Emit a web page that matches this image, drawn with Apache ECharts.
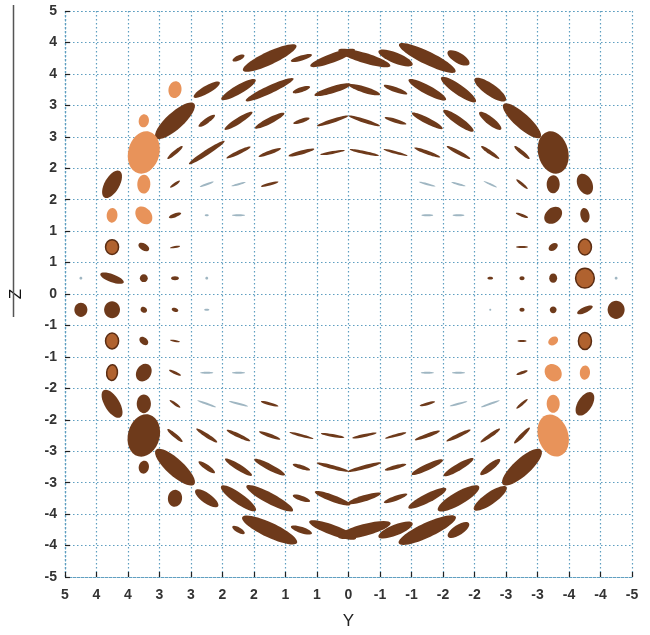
<!DOCTYPE html>
<html>
<head>
<meta charset="utf-8">
<script src="https://cdn.jsdelivr.net/npm/echarts@6/dist/echarts.min.js"></script>
<style>html,body{margin:0;padding:0;background:#fff}#c{width:650px;height:635px}</style>
</head>
<body>
<div id="c"></div>
<script>
// Tick labels (as printed, rounded) from -5 to 5
const tickLabels = ['-5','-4','-4','-3','-3','-2','-2','-1','-1','0','1','1','2','2','3','3','4','4','5'];
const axisMin = -5, axisMax = 5, tickStep = 10 / 18;

// Z value of each row of ellipses (top to bottom)
const rowZ = [4.17, 3.61, 3.06, 2.50, 1.94, 1.39, 0.83, 0.28, -0.28, -0.83, -1.39, -1.94, -2.50, -3.06, -3.61, -4.17];

// Each entry: [Y, major axis length, minor axis length, angle (deg), tone]
const row01 = [[1.94,0.23,0.09,25,0],[1.39,1.04,0.23,25,0],[0.83,0.39,0.09,17,0],[0.28,0.84,0.16,20,0],[-0.28,0.96,0.18,-17,0],[-0.83,0.65,0.19,-22,0],[-1.39,1.11,0.23,-26,0],[-1.94,0.44,0.18,-30,0]];
const row02 = [[3.06,0.30,0.23,80,1],[2.50,0.53,0.14,30,0],[1.94,0.70,0.16,30,0],[1.39,0.93,0.14,25,0],[0.83,0.32,0.09,18,0],[0.28,0.67,0.12,17,0],[-0.28,0.58,0.11,-17,0],[-0.83,0.44,0.09,-20,0],[-1.39,0.75,0.16,-28,0],[-1.94,0.75,0.18,-35,0],[-2.50,0.67,0.21,-35,0]];
const row03 = [[3.61,0.23,0.18,80,1],[3.06,0.91,0.30,42,0],[2.50,0.35,0.09,35,0],[1.94,0.58,0.11,32,0],[1.39,0.58,0.11,27,0],[0.83,0.30,0.07,18,0],[0.28,0.58,0.07,18,0],[-0.28,0.58,0.07,-18,0],[-0.83,0.40,0.07,-17,0],[-1.39,0.61,0.11,-27,0],[-1.94,0.65,0.14,-35,0],[-2.50,0.49,0.14,-38,0],[-3.06,0.88,0.26,-42,0]];
const row04 = [[3.61,0.76,0.55,75,1],[3.06,0.35,0.07,40,0],[2.50,0.75,0.09,33,0],[1.94,0.47,0.07,25,0],[1.39,0.42,0.07,20,0],[0.83,0.47,0.07,15,0],[0.28,0.44,0.05,10,0],[-0.28,0.53,0.05,-12,0],[-0.83,0.44,0.05,-15,0],[-1.39,0.49,0.07,-20,0],[-1.94,0.47,0.07,-28,0],[-2.50,0.39,0.07,-35,0],[-3.06,0.35,0.07,-40,0],[-3.61,0.76,0.53,-75,0]];
const row05 = [[4.17,0.54,0.26,60,0],[3.61,0.33,0.23,88,1],[3.06,0.21,0.05,35,0],[2.50,0.26,0.035,20,2],[1.94,0.26,0.035,15,2],[1.39,0.32,0.05,15,0],[-1.39,0.30,0.035,-15,2],[-1.94,0.26,0.035,-15,2],[-2.50,0.26,0.035,-25,2],[-3.06,0.26,0.05,-40,0],[-3.61,0.32,0.23,88,0],[-4.17,0.39,0.26,-65,0]];
const row06 = [[4.17,0.26,0.19,85,1],[3.61,0.35,0.26,-50,1],[3.06,0.23,0.07,20,0],[2.50,0.07,0.035,0,2],[1.94,0.23,0.035,0,2],[-1.39,0.21,0.035,0,2],[-1.94,0.21,0.035,0,2],[-3.06,0.23,0.05,-20,0],[-3.61,0.35,0.26,40,0],[-4.17,0.26,0.16,-80,0]];
const row07 = [[4.17,0.26,0.23,90,3],[3.61,0.21,0.12,-30,0],[3.06,0.18,0.035,10,0],[-3.06,0.21,0.035,0,0],[-3.61,0.18,0.12,35,0],[-4.17,0.28,0.23,90,3]];
const row08 = [[4.72,0.05,0.05,0,2],[4.17,0.44,0.14,-20,0],[3.61,0.14,0.14,0,0],[3.06,0.14,0.07,0,0],[2.50,0.05,0.05,0,2],[-2.50,0.10,0.05,0,0],[-3.06,0.09,0.07,0,0],[-3.61,0.16,0.14,90,0],[-4.17,0.35,0.33,90,3],[-4.72,0.05,0.05,0,2]];
const row09 = [[4.72,0.25,0.23,90,0],[4.17,0.30,0.28,90,0],[3.61,0.12,0.10,-30,0],[3.06,0.12,0.07,-15,0],[2.50,0.09,0.035,0,2],[-2.50,0.035,0.035,0,2],[-3.06,0.09,0.07,0,0],[-3.61,0.12,0.12,0,0],[-4.17,0.30,0.10,25,0],[-4.72,0.32,0.30,90,0]];
const row10 = [[4.17,0.28,0.23,90,3],[3.61,0.18,0.12,-40,0],[3.06,0.18,0.035,-10,0],[-3.06,0.16,0.035,0,0],[-3.61,0.19,0.14,35,1],[-4.17,0.30,0.23,90,3]];
const row11 = [[4.17,0.28,0.19,85,3],[3.61,0.33,0.26,60,0],[3.06,0.23,0.05,-25,0],[2.50,0.23,0.035,0,2],[1.94,0.23,0.035,0,2],[-1.39,0.23,0.035,0,2],[-1.94,0.23,0.035,0,2],[-3.06,0.21,0.05,20,0],[-3.61,0.33,0.28,-50,1],[-4.17,0.25,0.18,85,1]];
const row12 = [[4.17,0.56,0.26,-58,0],[3.61,0.33,0.25,90,0],[3.06,0.23,0.05,-35,0],[2.50,0.35,0.035,-20,2],[1.94,0.35,0.035,-15,2],[1.39,0.32,0.05,-15,0],[-1.39,0.28,0.05,15,0],[-1.94,0.32,0.035,15,2],[-2.50,0.35,0.035,20,2],[-3.06,0.26,0.05,40,0],[-3.61,0.32,0.23,90,1],[-4.17,0.47,0.25,57,0]];
const row13 = [[3.61,0.76,0.56,75,0],[3.06,0.35,0.07,-40,0],[2.50,0.44,0.07,-33,0],[1.94,0.46,0.07,-25,0],[1.39,0.40,0.07,-20,0],[0.83,0.44,0.05,-15,0],[0.28,0.42,0.05,-10,0],[-0.28,0.44,0.05,12,0],[-0.83,0.39,0.05,15,0],[-1.39,0.47,0.07,20,0],[-1.94,0.47,0.07,25,0],[-2.50,0.42,0.07,35,0],[-3.06,0.39,0.07,45,0],[-3.61,0.76,0.53,-72,1]];
const row14 = [[3.61,0.23,0.18,80,0],[3.06,0.91,0.30,-42,0],[2.50,0.35,0.09,-35,0],[1.94,0.56,0.11,-32,0],[1.39,0.61,0.11,-27,0],[0.83,0.32,0.07,-18,0],[0.28,0.58,0.07,-15,0],[-0.28,0.61,0.07,15,0],[-0.83,0.39,0.07,15,0],[-1.39,0.61,0.11,25,0],[-1.94,0.61,0.12,30,0],[-2.50,0.44,0.12,38,0],[-3.06,0.91,0.30,42,0]];
const row15 = [[3.06,0.30,0.25,80,0],[2.50,0.49,0.18,-35,0],[1.94,0.75,0.19,-35,0],[1.39,0.93,0.19,-28,0],[0.83,0.32,0.09,-18,0],[0.28,0.67,0.12,-20,0],[-0.28,0.61,0.11,17,0],[-0.83,0.44,0.09,20,0],[-1.39,0.75,0.16,27,0],[-1.94,0.84,0.23,30,0],[-2.50,0.70,0.21,35,0]];
const row16 = [[1.94,0.25,0.09,-30,0],[1.39,1.07,0.26,-25,0],[0.83,0.39,0.11,-18,0],[0.28,0.88,0.18,-20,0],[-0.28,0.96,0.21,15,0],[-0.83,0.65,0.19,22,0],[-1.39,1.11,0.26,25,0],[-1.94,0.44,0.18,33,0]];

const rows = [row01,row02,row03,row04,row05,row06,row07,row08,row09,row10,row11,row12,row13,row14,row15,row16];

// tone -> colours
const toneFill = ['#6e3a1b', '#e8935a', '#9fb6c2', '#b0622f'];
const toneStroke = [null, null, null, '#5a2c12'];

const data = [];
rows.forEach((r, i) => r.forEach(e => data.push([e[0], rowZ[i], e[1], e[2], e[3], e[4]])));

const chart = echarts.init(document.getElementById('c'), null, {renderer: 'canvas'});
const labelFmt = v => tickLabels[Math.round((v - axisMin) / tickStep)] ?? '';
const dotLine = {color: '#5e9ec0', type: [1.5, 2.5], width: 1.2};

chart.setOption({
  animation: false,
  backgroundColor: '#ffffff',
  grid: {left: 63, right: 18, top: 11, bottom: 58, containLabel: false},
  xAxis: {
    type: 'value', min: axisMin, max: axisMax, interval: tickStep, inverse: true,
    name: 'Y', nameLocation: 'middle', nameGap: 36,
    nameTextStyle: {fontSize: 17, color: '#222', fontFamily: 'Liberation Sans'},
    axisLine: {show: true, onZero: false, lineStyle: dotLine},
    axisTick: {show: true, inside: true, length: 5, lineStyle: {color: '#222', width: 1.2}},
    axisLabel: {formatter: labelFmt, fontSize: 14, fontWeight: 'bold', color: '#333', margin: 11, fontFamily: 'Liberation Sans'},
    splitLine: {show: true, lineStyle: dotLine}
  },
  yAxis: {
    type: 'value', min: axisMin, max: axisMax, interval: tickStep,
    name: 'Z', nameLocation: 'middle', nameGap: 40, nameRotate: 90,
    nameTextStyle: {fontSize: 17, color: '#111', fontFamily: 'Liberation Sans'},
    axisLine: {show: true, onZero: false, lineStyle: dotLine},
    axisTick: {show: true, inside: true, length: 5, lineStyle: {color: '#222', width: 1.2}},
    axisLabel: {formatter: labelFmt, fontSize: 14, fontWeight: 'bold', color: '#333', margin: 8, fontFamily: 'Liberation Sans'},
    splitLine: {show: true, lineStyle: dotLine}
  },
  graphic: [{type: 'line', shape: {x1: 13.5, y1: 5, x2: 13.5, y2: 317}, style: {stroke: '#555', lineWidth: 1.5}, z: 10}],
  series: [{
    type: 'custom',
    coordinateSystem: 'cartesian2d',
    data: data,
    clip: true,
    renderItem: function (params, api) {
      const p = api.coord([api.value(0), api.value(1)]);
      const s = api.size([1, 1]);
      const k = (s[0] + s[1]) / 2;
      const tone = api.value(5);
      const style = {fill: toneFill[tone]};
      if (toneStroke[tone]) { style.stroke = toneStroke[tone]; style.lineWidth = 1.5; }
      return {
        type: 'ellipse',
        x: p[0], y: p[1],
        rotation: api.value(4) * Math.PI / 180,
        shape: {cx: 0, cy: 0, rx: Math.max(api.value(2) * k / 2, 0.8), ry: Math.max(api.value(3) * k / 2, 0.8)},
        style: style
      };
    }
  }]
});
</script>
</body>
</html>
